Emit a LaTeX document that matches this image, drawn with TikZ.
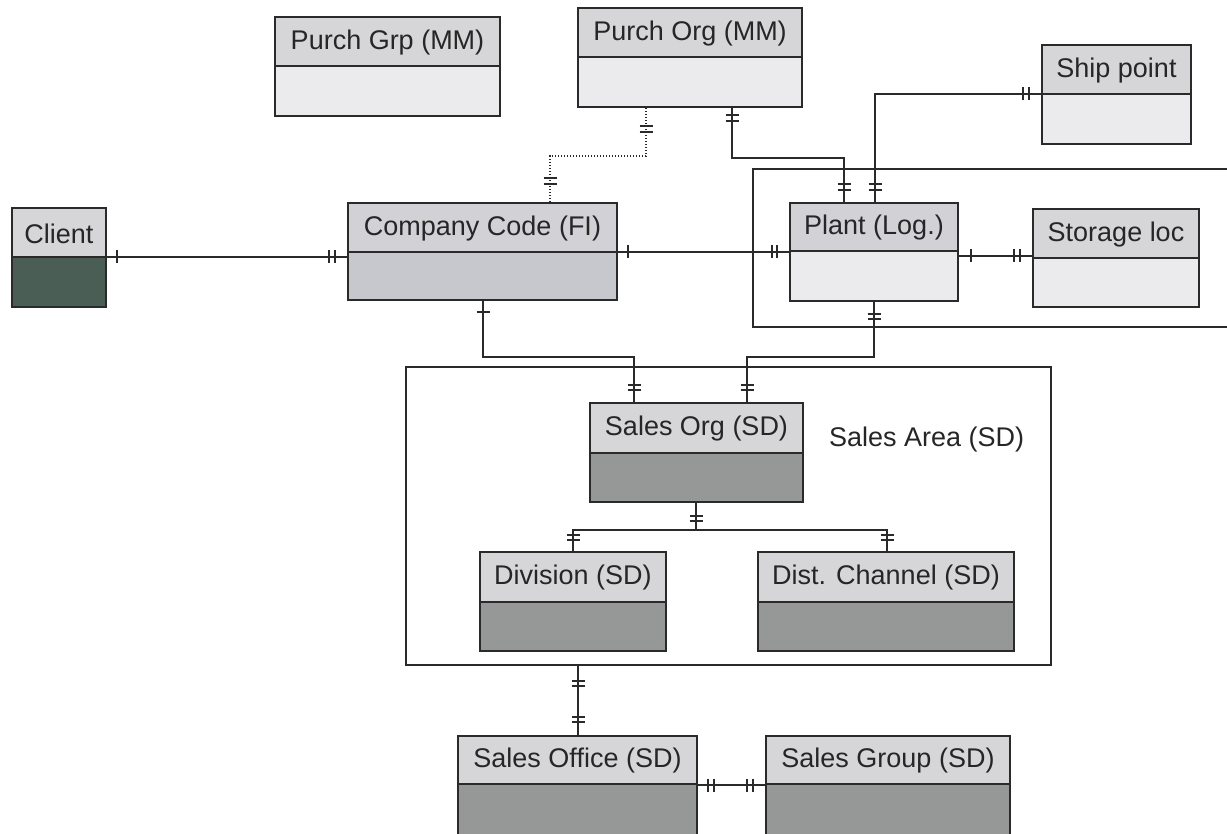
\documentclass[tikz,border=0pt]{standalone}
\usepackage{fontspec}
\setmainfont{Liberation Sans}
\usetikzlibrary{fit}
\definecolor{hdr}{HTML}{D6D6D8}
\definecolor{hdrb}{HTML}{D2D2D6}
\definecolor{lowlight}{HTML}{EBEBEE}
\definecolor{lowblue}{HTML}{C7C8CE}
\definecolor{lowdark}{HTML}{959897}
\definecolor{lowgreen}{HTML}{4B5E56}
\definecolor{edge}{HTML}{2A2A2A}
\tikzset{
  conn/.style={draw=edge, line width=1.4pt},
  dotconn/.style={draw=edge, line width=1.3pt, dash pattern=on 1.5pt off 1.5pt},
  frame/.style={draw=edge, line width=1.5pt},
  entbox/.style={draw=edge, line width=1.6pt, inner sep=0pt},
  enttext/.style={font=\fontsize{27}{32}\selectfont, text=black!85, inner sep=0pt},
  lbl/.style={font=\fontsize{27}{32}\selectfont, text=black!85, inner sep=0pt}
}
% entity: name, x1, y1, x2, ydiv, y2, header colour, lower colour, text
\newcommand{\ent}[9]{%
  \fill[#7] (#2,#3) rectangle (#4,#5);
  \fill[#8] (#2,#5) rectangle (#4,#6);
  \draw[edge, line width=1.4pt] (#2,#5) -- (#4,#5);
  \coordinate (#1-dl) at (#2,#5);
  \coordinate (#1-dr) at (#4,#5);
  \node[entbox, fit={(#2,#3) (#4,#6)}] (#1) {};
  \node[enttext] (#1-t) at ({(#2+#4)/2},{(#3+#5)/2+1}) {#9};
}
% vertical tick on a horizontal line
\newcommand{\vtk}[2]{\draw[conn] (#1,#2-6.5) -- (#1,#2+6.5);}
% horizontal tick on a vertical line
\newcommand{\htk}[2]{\draw[conn] (#1-6.5,#2) -- (#1+6.5,#2);}
\begin{document}
\begin{tikzpicture}[x=1pt,y=-1pt]
\useasboundingbox (0,0) rectangle (1227,834);
\begin{scope}
\clip (0,0) rectangle (1227,834);
% frames
\draw[frame] (1240,169) -- (753,169) -- (753,327) -- (1240,327);
\node[frame, inner sep=0pt, fit={(406,367) (1051,665)}] (area) {};
\node[lbl, anchor=west] (arealbl) at (829,440) {Sales Area (SD)};

% entities
\ent{pgrp}{275}{17}{500}{66}{116}{hdr}{lowlight}{Purch Grp (MM)}
\ent{porg}{578}{8}{802}{57}{107}{hdr}{lowlight}{Purch Org (MM)}
\ent{ship}{1042}{45}{1191}{94}{144}{hdr}{lowlight}{Ship point}
\ent{client}{12}{208}{106}{257}{307}{hdr}{lowgreen}{Client}
\ent{cc}{348}{203}{617}{252}{300}{hdrb}{lowblue}{Company Code (FI)}
\ent{plant}{790}{203}{958}{251}{301}{hdrb}{lowlight}{Plant (Log.)}
\ent{stor}{1033}{209}{1199}{258}{307}{hdr}{lowlight}{Storage loc}
\ent{sorg}{590}{403}{803}{453}{502}{hdr}{lowdark}{Sales Org (SD)}
\ent{div}{480}{552}{666}{602}{651}{hdr}{lowdark}{Division (SD)}
\ent{dist}{758}{552}{1014}{602}{651}{hdr}{lowdark}{Dist. Channel (SD)}
\ent{soff}{458}{736}{697}{784}{850}{hdr}{lowdark}{Sales Office (SD)}
\ent{sgrp}{766}{736}{1010}{784}{850}{hdr}{lowdark}{Sales Group (SD)}

% connectors
\draw[conn] (client-dr) -- (client-dr -| cc.west);
\vtk{117}{257}\vtk{329}{257}\vtk{335}{257}

\draw[conn] (cc-dr) -- (cc-dr -| plant.west);
\vtk{628}{252}\vtk{772}{252}\vtk{777}{252}

\draw[conn] (plant.east |- 0,256) -- (stor.west |- 0,256);
\vtk{971}{256}\vtk{1014}{256}\vtk{1020}{256}

\draw[conn] (porg.south -| 732,0) -- (732,158) -- (844,158) -- (plant.north -| 844,0);
\htk{732}{115}\htk{732}{121}\htk{844}{184}\htk{844}{190}

\draw[dotconn] (porg.south -| 646,0) -- (646,156) -- (550,156) -- (cc.north -| 550,0);
\htk{646}{126}\htk{646}{132}\htk{550}{178}\htk{550}{184}

\draw[conn] (ship-dl) -- (875,94) -- (plant.north -| 875,0);
\vtk{1023}{94}\vtk{1029}{94}\htk{875}{184}\htk{875}{190}

\draw[conn] (cc.south -| 483,0) -- (483,357) -- (634,357) -- (sorg.north -| 634,0);
\htk{483}{312}\htk{634}{385}\htk{634}{390}

\draw[conn] (plant.south -| 874,0) -- (874,357) -- (747,357) -- (sorg.north -| 747,0);
\htk{874}{314}\htk{874}{319}\htk{747}{385}\htk{747}{390}

\draw[conn] (sorg.south -| 696,0) -- (696,530);
\draw[conn] (div.north -| 573,0) -- (573,530) -- (887,530) -- (dist.north -| 887,0);
\htk{696}{516}\htk{696}{521}\htk{573}{535}\htk{573}{540}\htk{887}{535}\htk{887}{540}

\draw[conn] (area.south -| 578,0) -- (soff.north -| 578,0);
\htk{578}{681}\htk{578}{686}\htk{578}{717}\htk{578}{722}

\draw[conn] (soff.east |- 0,785) -- (sgrp.west |- 0,785);
\vtk{708}{785}\vtk{714}{785}\vtk{747}{785}\vtk{753}{785}
\end{scope}
\end{tikzpicture}
\end{document}
